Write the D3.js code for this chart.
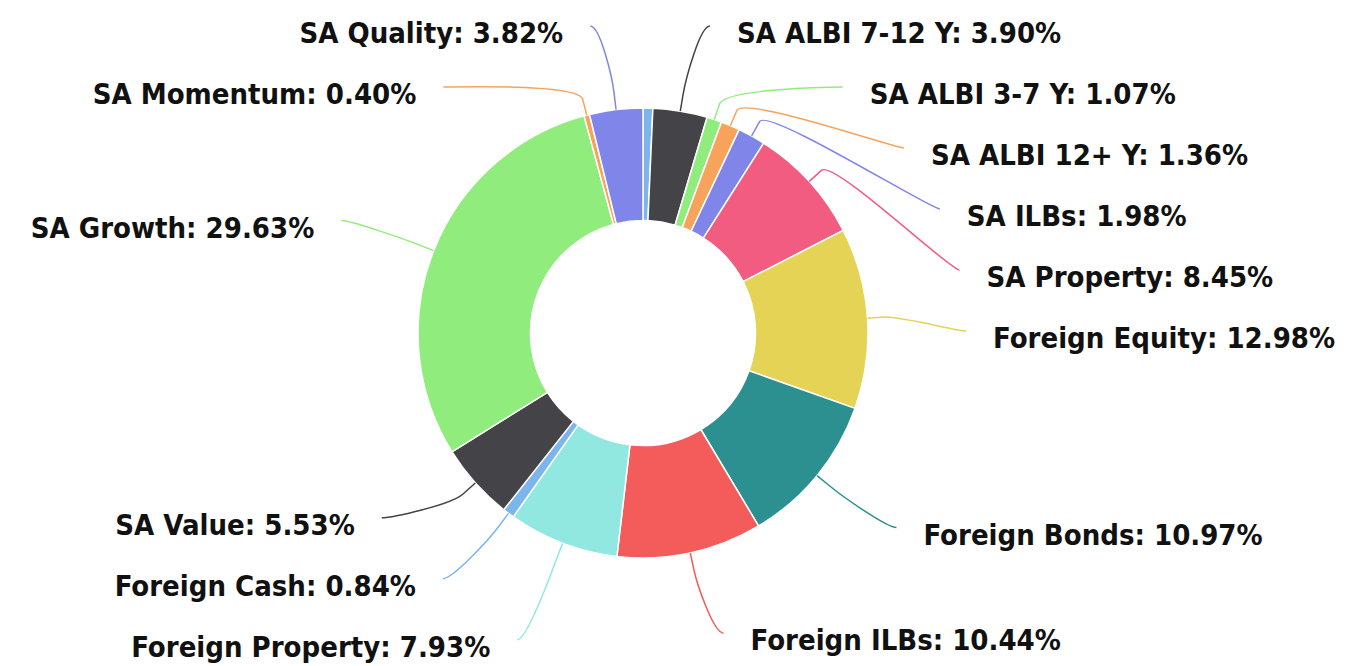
<!DOCTYPE html>
<html>
<head>
<meta charset="utf-8">
<script src="https://cdn.jsdelivr.net/npm/d3@7"></script>
<style>
  html, body { margin: 0; padding: 0; background: #fff; }
</style>
</head>
<body>
<script>
const svg_width = 1345;
const svg_height = 666;

// asset classes, clockwise from 12 o'clock
const names = ['SA Cash', 'SA ALBI 7-12 Y', 'SA ALBI 3-7 Y', 'SA ALBI 12+ Y', 'SA ILBs', 'SA Property',
    'Foreign Equity', 'Foreign Bonds', 'Foreign ILBs', 'Foreign Property', 'Foreign Cash',
    'SA Value', 'SA Growth', 'SA Momentum', 'SA Quality'];
const values = [0.70, 3.90, 1.07, 1.36, 1.98, 8.45, 12.98, 10.97, 10.44, 7.93, 0.84, 5.53, 29.63, 0.40, 3.82];
const colors = ['#7cb5ec', '#434348', '#90ed7d', '#f7a35c', '#8085e9', '#f15c80', '#e4d354', '#2b908f', '#f45b5b', '#91e8e1'];

const cx = 643;
const cy = 333;
const outer_r = 225;
const inner_r = outer_r * 0.5;
const label_dist = 82;
const label_r = outer_r + label_dist;
const slot = 61;          // height of one label row
const max_shift = 150;    // labels pushed further than this get dropped
const anchor_pad = 16;
const text_pad = 27;

const data = names.map((n, i) => ({name: n, value: values[i], color: colors[i % colors.length]}));

const svg = d3.select('body')
    .append('svg')
    .attr('width', svg_width)
    .attr('height', svg_height);

const pie = d3.pie()
    .sort(null)
    .value(d => d.value);
const arcs = pie(data);

const arc = d3.arc()
    .innerRadius(inner_r)
    .outerRadius(outer_r);

const g = svg.append('g').attr('transform', `translate(${cx}, ${cy})`);

g.selectAll('path')
    .data(arcs)
    .enter()
    .append('path')
    .attr('d', arc)
    .attr('fill', d => d.data.color)
    .attr('stroke', '#fff')
    .attr('stroke-width', 1.5)
    .attr('stroke-linejoin', 'round');

// label anchors, highcharts style
arcs.forEach(a => {
    const mid = (a.startAngle + a.endAngle) / 2;
    a.mid = mid;
    a.left = Math.sin(mid) < 0;
    a.target = cy - Math.cos(mid) * label_r;
    a.touch = [cx + Math.sin(mid) * outer_r, cy - Math.cos(mid) * outer_r];
    const brk = outer_r + label_dist / 5;
    a.brk = [cx + Math.sin(mid) * brk, cy - Math.cos(mid) * brk];
});

const lo = cy - label_r;
const hi = cy + label_r;

function place(items) {
    let boxes = items.slice()
        .sort((a, b) => a.target - b.target)
        .map(d => ({size: slot, targets: [d.target], items: [d]}));
    let overlapping = true;
    while (overlapping) {
        boxes.forEach(b => {
            const t = (d3.min(b.targets) + d3.max(b.targets)) / 2;
            b.pos = Math.max(lo - slot / 2, Math.min(t - b.size / 2, hi + slot / 2 - b.size));
        });
        overlapping = false;
        for (let i = boxes.length - 1; i > 0; i--) {
            if (boxes[i - 1].pos + boxes[i - 1].size > boxes[i].pos + 1e-6) {
                boxes[i - 1].size += boxes[i].size;
                boxes[i - 1].targets = boxes[i - 1].targets.concat(boxes[i].targets);
                boxes[i - 1].items = boxes[i - 1].items.concat(boxes[i].items);
                boxes.splice(i, 1);
                overlapping = true;
            }
        }
    }
    boxes.forEach(b => b.items.forEach((d, j) => d.y = b.pos + slot / 2 + j * slot));
}

function layoutSide(items) {
    let shown = items.slice();
    while (shown.length) {
        place(shown);
        const worst = d3.max(shown, d => Math.abs(d.y - d.target));
        if (worst <= max_shift) break;
        const smallest = shown.reduce((m, d) => d.value < m.value ? d : m);
        shown = shown.filter(d => d !== smallest);
    }
    return shown;
}

const labelled = [
    ...layoutSide(arcs.filter(a => !a.left)),
    ...layoutSide(arcs.filter(a => a.left))
];

labelled.forEach(a => {
    const at_edge = a.y < lo + 2 || a.y > hi - 2;
    const yy = at_edge ? a.target : a.y;
    const dx = Math.sqrt(Math.max(0, label_r * label_r - (yy - cy) * (yy - cy)));
    const sign = a.left ? -1 : 1;
    a.ax = cx + sign * (dx + anchor_pad);
    a.tx = a.ax + sign * text_pad;
});

const line = d => {
    const sign = d.left ? 1 : -1;
    const c2 = [2 * d.brk[0] - d.touch[0], 2 * d.brk[1] - d.touch[1]];
    return `M${d.ax},${d.y}C${d.ax + sign * 10},${d.y} ${c2[0]},${c2[1]} ${d.brk[0]},${d.brk[1]}L${d.touch[0]},${d.touch[1]}`;
};

svg.append('g')
    .selectAll('path')
    .data(labelled)
    .enter()
    .append('path')
    .attr('d', line)
    .attr('fill', 'none')
    .attr('stroke', d => d.data.color)
    .attr('stroke-width', 1.5);

svg.append('g')
    .selectAll('text')
    .data(labelled)
    .enter()
    .append('text')
    .attr('x', d => d.tx)
    .attr('y', d => d.y + 17)
    .attr('text-anchor', d => d.left ? 'end' : 'start')
    .attr('font-family', "'DejaVu Sans Condensed', 'DejaVu Sans', sans-serif")
    .attr('font-stretch', 'condensed')
    .attr('font-weight', 'bold')
    .attr('font-size', 29)
    .attr('fill', '#111')
    .text(d => `${d.data.name}: ${d.data.value.toFixed(2)}%`);
</script>
</body>
</html>
